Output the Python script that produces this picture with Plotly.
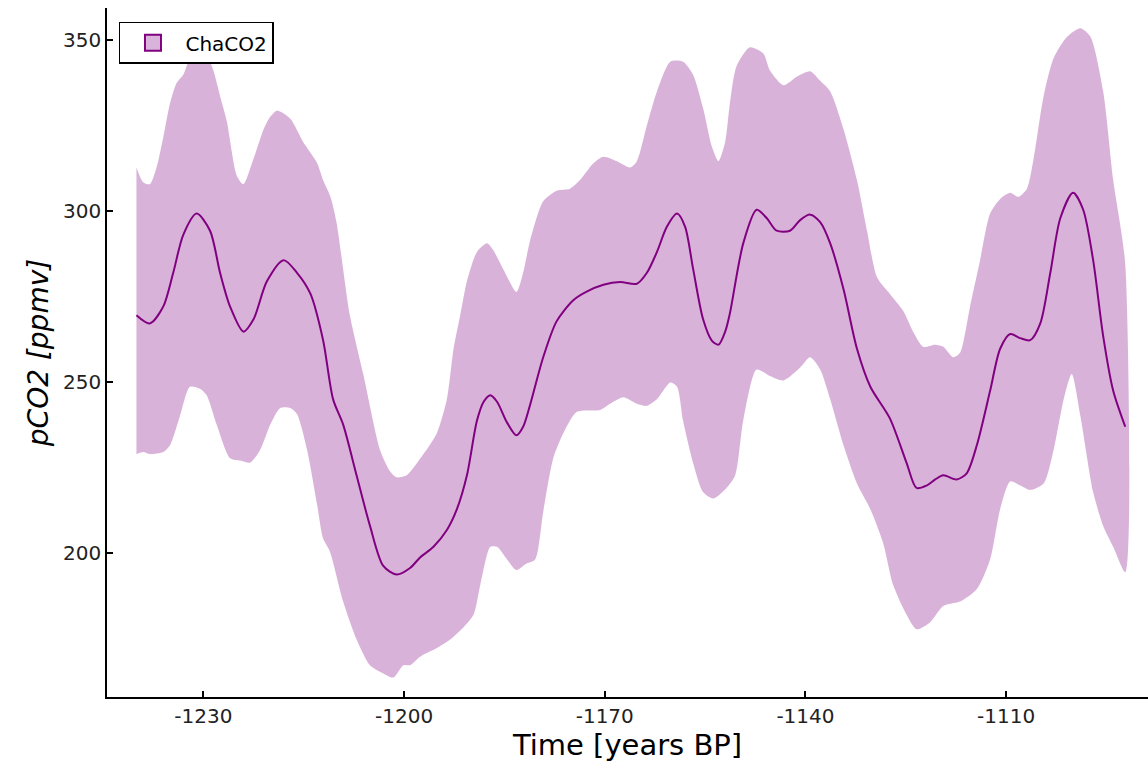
import plotly.graph_objects as go

# Mean pCO2 curve
mean_years = [-1240.0, -1238.0, -1236.0, -1234.5, -1233.0, -1231.0, -1229.0, -1227.5, -1226.0, -1224.0,
              -1222.5, -1220.5, -1218.0, -1216.0, -1214.0, -1212.1, -1210.6, -1209.1, -1207.1, -1205.1,
              -1203.1, -1201.1, -1199.1, -1197.6, -1195.6, -1193.6, -1192.1, -1190.6, -1189.1, -1188.1,
              -1187.1, -1186.1, -1184.6, -1183.2, -1182.2, -1181.2, -1179.2, -1177.2, -1174.7, -1172.7,
              -1170.2, -1167.7, -1165.2, -1163.7, -1162.2, -1160.7, -1159.2, -1158.0, -1156.8, -1155.3,
              -1154.0, -1153.0, -1152.0, -1151.3, -1149.3, -1147.3, -1145.8, -1144.3, -1142.3, -1140.8,
              -1139.3, -1137.8, -1136.3, -1134.3, -1132.3, -1130.3, -1127.4, -1124.9, -1123.4, -1121.9,
              -1120.6, -1119.4, -1117.4, -1115.9, -1114.4, -1112.4, -1110.9, -1109.4, -1107.9, -1106.4,
              -1104.9, -1103.4, -1101.9, -1100.0, -1098.5, -1097.0, -1095.5, -1094.0, -1092.2]
mean_pco2 = [269.5, 267.1, 272.0, 281.9, 293.0, 299.2, 294.2, 281.9, 272.0, 264.7,
             268.3, 279.4, 285.6, 281.9, 275.8, 262.2, 244.9, 237.5, 222.7, 208.0,
             196.2, 193.7, 195.6, 198.7, 201.8, 206.7, 212.8, 222.7, 238.7, 244.2,
             246.1, 244.2, 238.1, 234.4, 236.9, 243.0, 257.2, 267.7, 273.9, 276.4,
             278.4, 279.2, 278.7, 281.9, 288.0, 295.4, 299.2, 295.4, 283.1, 268.3,
             262.1, 260.9, 264.7, 270.0, 290.5, 300.3, 297.9, 294.2, 294.2, 297.3,
             298.9, 296.7, 290.5, 277.0, 259.7, 248.6, 239.4, 226.4, 219.0, 219.7,
             221.5, 222.7, 221.5, 223.3, 231.4, 247.4, 259.7, 264.0, 262.8, 262.2,
             267.1, 281.9, 297.9, 305.3, 300.4, 285.6, 263.4, 247.4, 236.9]

# Upper bound of uncertainty band
upper_years = [-1240.0, -1239.0, -1238.0, -1237.0, -1236.0, -1235.0, -1234.0, -1233.0, -1232.0, -1230.5,
               -1229.5, -1228.5, -1227.5, -1226.5, -1225.0, -1224.0, -1222.5, -1221.0, -1220.0, -1219.0,
               -1217.0, -1215.1, -1213.0, -1212.1, -1211.0, -1210.1, -1208.1, -1206.1, -1203.6, -1202.1,
               -1201.1, -1199.6, -1197.1, -1195.1, -1193.6, -1192.6, -1191.6, -1190.6, -1189.1, -1187.6,
               -1186.7, -1185.2, -1183.2, -1182.2, -1181.2, -1179.2, -1177.2, -1175.2, -1173.7, -1171.7,
               -1170.2, -1168.2, -1166.2, -1165.2, -1163.7, -1162.2, -1160.2, -1158.3, -1156.8, -1155.3,
               -1154.0, -1153.0, -1152.0, -1151.3, -1150.3, -1148.3, -1146.3, -1145.3, -1143.3, -1141.3,
               -1139.3, -1137.8, -1136.3, -1134.3, -1132.3, -1130.8, -1129.3, -1127.4, -1125.4, -1123.9,
               -1122.4, -1120.6, -1119.4, -1117.9, -1116.9, -1115.4, -1113.9, -1112.4, -1110.9, -1109.4,
               -1108.2, -1106.9, -1105.9, -1104.4, -1102.9, -1100.9, -1098.9, -1097.4, -1095.5, -1094.0,
               -1092.2]
upper_pco2 = [312.7, 308.4, 307.8, 312.7, 321.4, 331.3, 337.4, 339.8, 344.7, 348.5,
              346.0, 341.0, 333.6, 326.3, 310.3, 307.8, 315.2, 323.8, 327.5, 329.3,
              326.9, 320.2, 314.0, 309.0, 304.1, 296.7, 269.5, 252.3, 230.2, 223.9,
              222.1, 222.7, 228.9, 235.0, 244.9, 259.7, 269.5, 279.4, 288.0, 290.5,
              288.6, 283.1, 276.3, 281.9, 291.0, 302.8, 305.9, 306.5, 309.0, 313.9,
              315.8, 314.5, 312.7, 314.5, 325.0, 334.9, 343.6, 343.6, 339.8, 330.0,
              318.9, 314.5, 320.1, 331.3, 342.3, 347.8, 346.0, 341.0, 336.7, 339.2,
              340.8, 338.0, 334.9, 323.8, 309.0, 294.2, 280.6, 275.8, 270.8, 264.7,
              260.3, 260.9, 260.3, 257.2, 258.5, 272.0, 285.6, 299.2, 303.5, 305.3,
              304.1, 306.5, 315.2, 333.6, 344.7, 350.9, 353.4, 350.9, 334.9, 309.0,
              284.4]

# Lower bound of uncertainty band
lower_years = [-1240.0, -1239.0, -1238.0, -1236.0, -1235.0, -1233.5, -1232.0, -1230.5, -1229.5, -1228.0,
               -1226.0, -1224.5, -1223.0, -1221.5, -1220.0, -1218.5, -1217.0, -1216.0, -1214.5, -1213.0,
               -1212.1, -1211.1, -1209.1, -1207.1, -1205.1, -1203.1, -1201.6, -1200.1, -1199.1, -1197.6,
               -1195.1, -1193.1, -1191.1, -1189.6, -1188.6, -1187.1, -1186.1, -1184.6, -1183.2, -1181.7,
               -1180.4, -1179.2, -1177.7, -1176.2, -1174.2, -1170.7, -1169.2, -1167.2, -1165.2, -1163.7,
               -1162.2, -1160.2, -1159.2, -1158.3, -1156.8, -1155.3, -1153.8, -1151.8, -1150.5, -1149.3,
               -1147.3, -1145.3, -1143.3, -1140.8, -1139.3, -1137.8, -1136.3, -1134.3, -1132.3, -1130.3,
               -1128.4, -1126.9, -1124.9, -1123.4, -1121.4, -1119.4, -1116.9, -1114.4, -1112.4, -1110.9,
               -1109.4, -1107.9, -1106.4, -1104.4, -1102.9, -1101.4, -1100.2, -1098.9, -1097.0, -1095.5,
               -1094.0, -1092.2]
lower_pco2 = [228.9, 229.5, 228.9, 229.5, 231.4, 240.0, 248.6, 248.0, 246.1, 237.5,
              227.7, 227.0, 226.4, 230.2, 237.5, 242.4, 242.4, 240.6, 230.2, 214.2,
              204.2, 200.5, 185.8, 174.7, 167.2, 164.8, 163.6, 167.2, 167.2, 169.7,
              172.2, 174.7, 178.3, 182.0, 190.7, 201.8, 201.8, 198.1, 195.0, 196.9,
              198.1, 212.0, 227.7, 235.0, 241.2, 241.8, 243.6, 245.5, 243.6, 243.0,
              244.9, 249.8, 248.6, 238.7, 226.4, 217.8, 215.9, 219.0, 222.7, 238.7,
              253.6, 251.7, 250.4, 254.2, 257.2, 253.6, 244.9, 231.4, 220.3, 212.8,
              203.0, 190.7, 182.0, 177.7, 179.7, 184.5, 185.8, 189.4, 198.1, 212.8,
              220.9, 219.7, 218.4, 220.3, 230.2, 244.9, 252.3, 240.0, 217.8, 207.9,
              201.8, 194.4]

x_ticks = [-1230, -1200, -1170, -1140, -1110]
y_ticks = [200, 250, 300, 350]

LINE = "rgb(128,0,128)"
BAND = "rgba(128,0,128,0.3)"
FONT = "DejaVu Sans"

fig = go.Figure()
fig.add_trace(go.Scatter(
    x=upper_years + lower_years[::-1],
    y=upper_pco2 + lower_pco2[::-1],
    fill="toself", fillcolor=BAND, line=dict(width=0, shape="spline", smoothing=0.7),
    mode="lines", showlegend=False, hoverinfo="skip"))
fig.add_trace(go.Scatter(
    x=mean_years, y=mean_pco2, mode="lines",
    line=dict(color=LINE, width=2, shape="spline", smoothing=0.8), showlegend=False))
# legend entry
fig.add_trace(go.Scatter(
    x=[None], y=[None], name="ChaCO2", mode="markers",
    marker=dict(symbol="square", size=17, color="rgb(217,179,217)",
                line=dict(color=LINE, width=2))))

fig.update_layout(
    width=1148, height=768,
    margin=dict(l=107, r=0, t=8, b=71),
    plot_bgcolor="white", paper_bgcolor="white",
    font=dict(family=FONT, color="black", size=20),
    legend=dict(x=0.0115, y=0.98, xanchor="left", yanchor="top",
                bordercolor="black", borderwidth=1.5, bgcolor="white",
                font=dict(size=20, family=FONT), itemwidth=55),
    xaxis=dict(range=[-1244.4, -1088.8], tickvals=x_ticks,
               ticktext=[str(v) for v in x_ticks],
               ticks="inside", ticklen=6, tickwidth=1.5, tickcolor="black",
               showline=True, linecolor="black", linewidth=1.5,
               showgrid=False, zeroline=False,
               tickfont=dict(size=20, family=FONT, color="#222"),
               title=dict(text="Time [years BP]", font=dict(size=29, family=FONT), standoff=8)),
    yaxis=dict(range=[157.9, 359.3], tickvals=y_ticks,
               ticks="inside", ticklen=6, tickwidth=1.5, tickcolor="black",
               showline=True, linecolor="black", linewidth=1.5,
               showgrid=False, zeroline=False,
               tickfont=dict(size=20, family=FONT, color="#222"),
               title=dict(text="<i>pCO2 [ppmv]</i>", font=dict(size=28, family=FONT), standoff=6)),
)

fig.write_html("out.html")
